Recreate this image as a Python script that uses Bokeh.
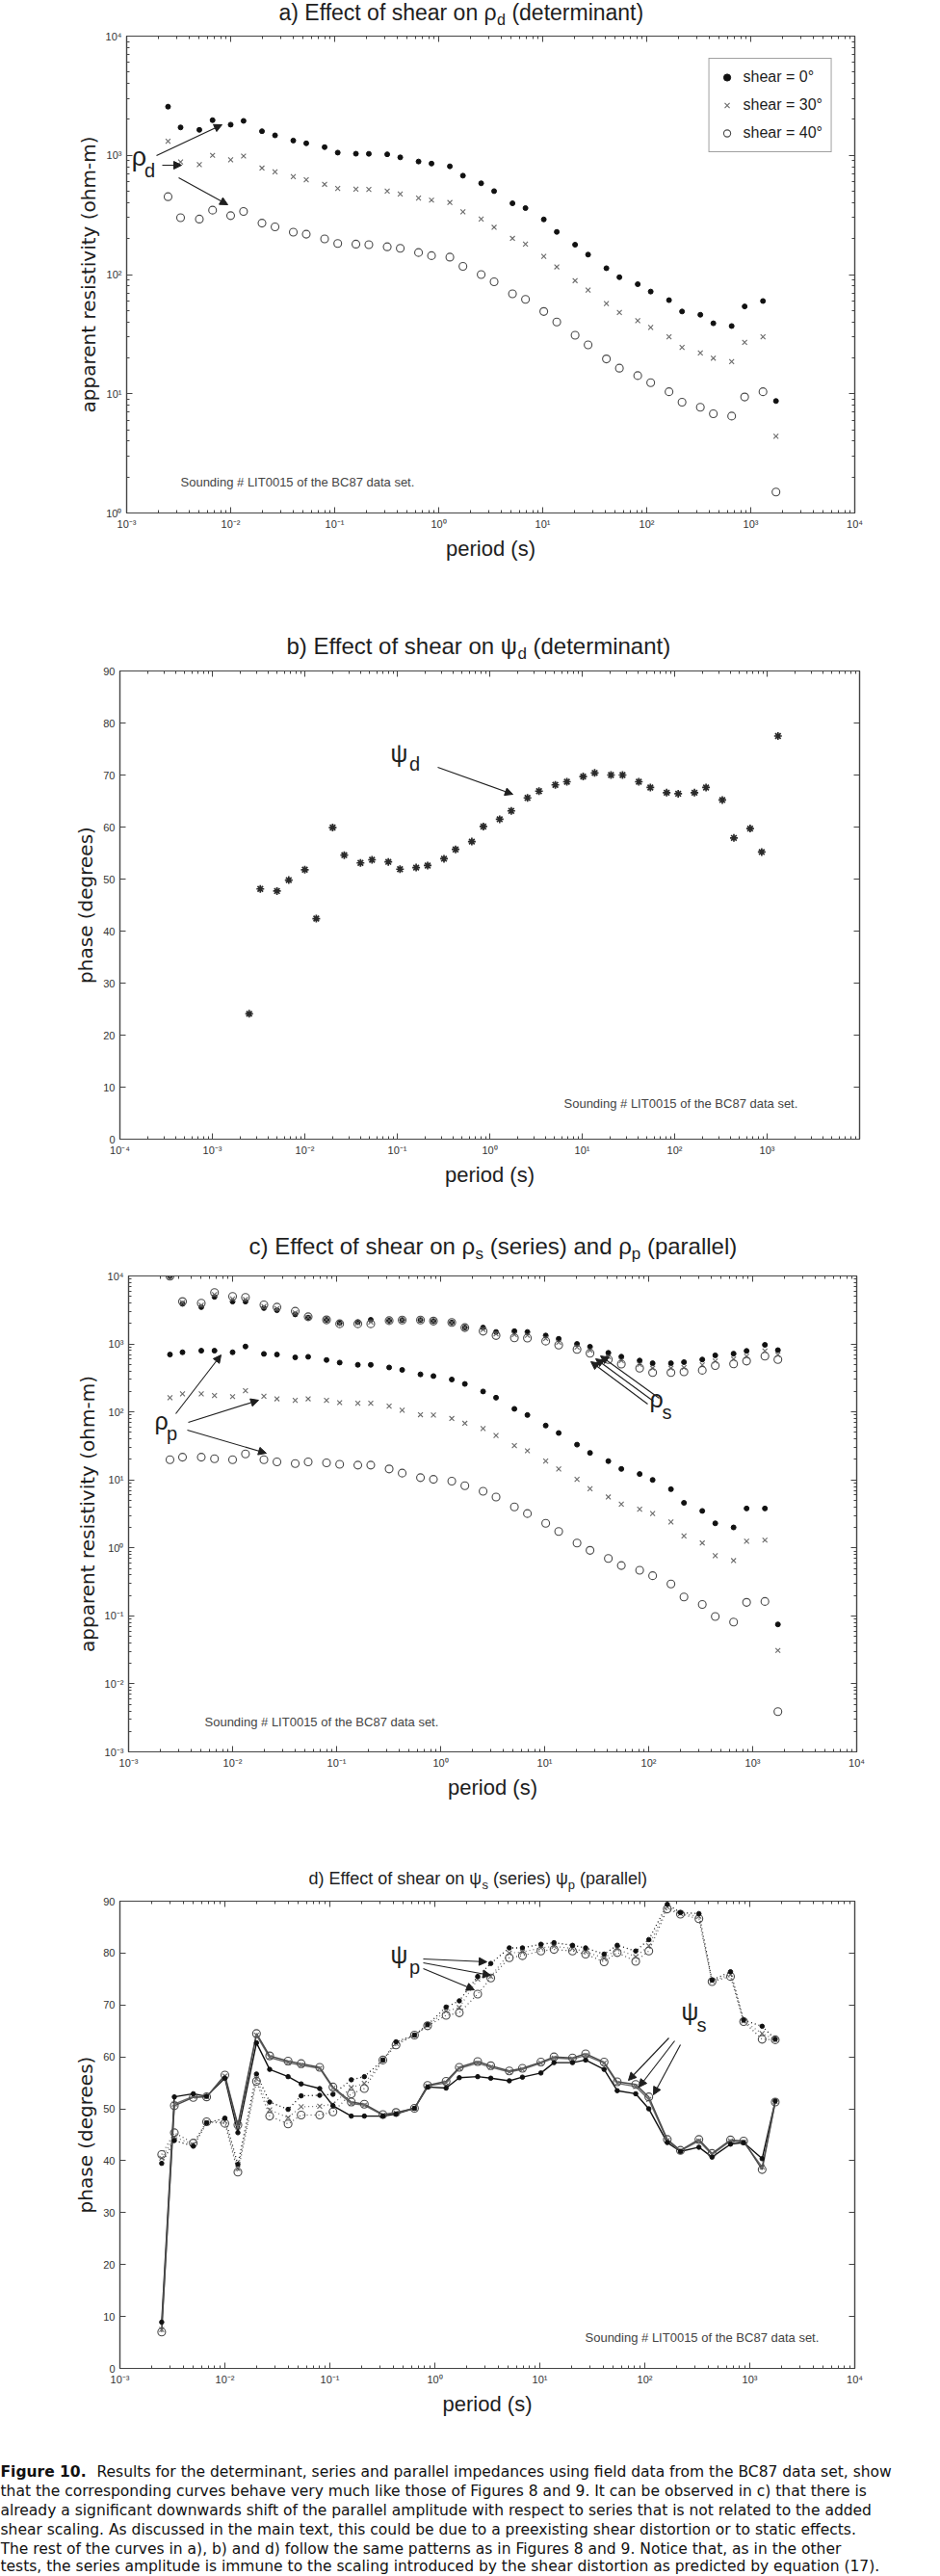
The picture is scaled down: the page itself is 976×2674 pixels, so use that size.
from bokeh.plotting import figure
from bokeh.models import (Range1d, LogAxis, LinearAxis, Label, Arrow, NormalHead,
                          FixedTicker, CustomJSTickFormatter, ColumnDataSource)
from bokeh.layouts import column
from bokeh.embed import file_html
from bokeh.resources import INLINE
from bokeh.core.properties import value

# ---------------- data ----------------
period = [0.0025, 0.0033, 0.005, 0.0067, 0.01, 0.0133, 0.02, 0.0267, 0.04, 0.0533,
          0.08, 0.107, 0.16, 0.213, 0.32, 0.427, 0.64, 0.853, 1.28, 1.71,
          2.56, 3.41, 5.12, 6.83, 10.24, 13.65, 20.48, 27.31, 40.96, 54.61,
          81.92, 109.2, 163.8, 218.5, 327.7, 436.9, 655.4, 873.8, 1311.0, 1748.0]

a_rho_0 = [2560, 1715, 1636, 1972, 1808, 1945, 1593, 1471, 1331, 1262, 1172, 1054, 1032, 1030,
           1020, 962, 888, 853, 809, 675, 583, 501, 396, 361, 290, 228, 178, 147, 113, 95,
           83, 72, 61, 49, 46, 39, 37, 54, 60, 8.7]
a_rho_30 = [1314, 881, 836, 1000, 917, 986, 782, 726, 662, 624, 572, 528, 521, 518,
            501, 474, 438, 421, 402, 336, 292, 249, 201, 180, 142, 116, 89, 74, 57, 48,
            41, 36, 30, 24.5, 22, 19.9, 18.6, 27, 30, 4.4]
a_rho_40 = [450, 300, 292, 347, 312, 338, 270, 251, 227, 218, 199, 182, 180, 178,
            171, 166, 153, 144, 140, 117, 100, 87, 69, 62, 49, 40, 31, 25.7, 19.6, 16.4,
            14.2, 12.4, 10.4, 8.5, 7.7, 6.8, 6.5, 9.4, 10.4, 1.5]

b_psi = [24.1, 48.1, 47.7, 49.8, 51.8, 42.4, 59.9, 54.6, 53.1, 53.7, 53.3, 51.9, 52.2,
         52.6, 53.9, 55.7, 57.2, 60.1, 61.5, 63.1, 65.6, 66.9, 68.1, 68.7, 69.7, 70.4,
         70.0, 70.0, 68.7, 67.6, 66.6, 66.4, 66.6, 67.6, 65.2, 57.9, 59.7, 55.2, 77.5]

c_rs_0 = [9900, 3890, 3480, 4930, 4200, 4200, 3370, 3130, 2720, 2440, 2260, 2030, 2090, 2260,
          2200, 2250, 2250, 2170, 2070, 1740, 1740, 1500, 1540, 1500, 1330, 1190, 1000, 910,
          740, 650, 570, 520, 520, 540, 590, 680, 720, 790, 970, 810]
c_rs_30 = [9900, 4050, 3720, 5300, 4600, 4500, 3560, 3300, 2870, 2470, 2260, 2000, 2030, 2100,
           2200, 2250, 2250, 2170, 2070, 1740, 1630, 1410, 1370, 1340, 1200, 1060, 900, 810,
           650, 570, 500, 440, 440, 450, 490, 560, 600, 660, 790, 690]
c_rs_40 = [9900, 4200, 3970, 5690, 4990, 4830, 3760, 3480, 3030, 2510, 2260, 1980, 1980, 1980,
           2200, 2250, 2250, 2170, 2070, 1740, 1540, 1330, 1230, 1220, 1100, 960, 830, 730,
           590, 505, 440, 380, 380, 390, 410, 480, 510, 560, 660, 590]
c_rp_0 = [698, 754, 796, 796, 754, 917, 714, 698, 634, 647, 581, 532, 493, 493,
          451, 415, 357, 337, 300, 258, 200, 162, 111, 90, 63, 49, 33, 25, 18.9, 14.5,
          12.2, 10.0, 7.3, 4.6, 3.5, 2.3, 2.0, 3.8, 3.8, 0.075]
c_rp_30 = [162, 184, 184, 174, 168, 205, 170, 156, 148, 156, 148, 137, 134, 134,
           122, 106, 91, 90, 80, 68, 57, 45, 32, 26.8, 18.9, 14.5, 10.2, 7.4, 5.6, 4.4,
           3.7, 3.2, 2.4, 1.5, 1.18, 0.77, 0.65, 1.25, 1.3, 0.031]
c_rp_40 = [19.8, 21.6, 21.6, 20.5, 19.8, 24.1, 19.8, 18.4, 17.4, 18.4, 17.8, 17.0, 16.5, 16.5,
           14.5, 12.6, 10.8, 10.2, 9.6, 8.2, 6.8, 5.6, 4.0, 3.2, 2.3, 1.74, 1.18, 0.92,
           0.70, 0.55, 0.47, 0.39, 0.295, 0.19, 0.147, 0.098, 0.081, 0.158, 0.163, 0.0039]

d_ps_0 = [8.9, 52.3, 52.9, 52.4, 55.9, 45.4, 62.7, 57.6, 56.2, 54.8, 53.9, 50.6, 48.6, 48.6,
          48.6, 49.0, 50.1, 54.2, 54.0, 56.0, 56.2, 55.9, 55.4, 56.1, 56.9, 58.9, 58.9, 59.4,
          57.6, 53.5, 52.9, 50.0, 43.5, 41.8, 42.6, 40.7, 43.2, 43.5, 40.4, 51.5]
d_ps_30 = [7.5, 50.9, 52.4, 52.3, 56.3, 46.5, 64.2, 59.9, 58.9, 58.4, 57.8, 54.0, 51.0, 50.7,
           48.8, 49.2, 50.1, 54.4, 55.0, 57.8, 58.8, 58.0, 57.1, 57.6, 58.8, 59.8, 59.6, 60.3,
           58.8, 54.9, 54.3, 51.8, 43.9, 41.9, 43.8, 41.2, 43.8, 43.6, 38.8, 51.4]
d_ps_40 = [7.0, 50.6, 52.2, 52.3, 56.5, 46.9, 64.5, 60.2, 59.2, 58.7, 58.0, 54.2, 51.3, 50.9,
           48.9, 49.3, 50.1, 54.5, 55.3, 58.0, 59.1, 58.3, 57.3, 57.8, 59.0, 60.0, 59.8, 60.6,
           59.0, 55.2, 54.7, 52.3, 44.1, 42.0, 44.1, 41.4, 44.0, 43.8, 38.3, 51.3]
d_pp_0 = [39.5, 43.9, 42.8, 47.3, 48.2, 39.3, 56.7, 51.3, 49.9, 52.5, 52.6, 52.8, 55.6, 56.2,
          59.4, 62.9, 64.2, 66.2, 69.6, 70.8, 75.5, 78.0, 81.0, 81.0, 81.7, 82.0, 81.5, 81.0,
          79.8, 81.5, 80.4, 82.6, 89.4, 87.8, 87.6, 74.8, 76.4, 67.1, 65.9, 63.4]
d_pp_30 = [40.5, 44.6, 43.1, 47.4, 47.6, 38.5, 55.8, 49.8, 48.3, 50.4, 50.5, 50.9, 54.1, 54.9,
           59.4, 62.6, 64.2, 66.1, 68.8, 69.5, 75.0, 75.5, 80.0, 80.2, 81.0, 81.3, 80.9, 80.3,
           79.0, 80.8, 79.3, 81.4, 88.9, 87.6, 87.1, 74.6, 75.9, 66.9, 64.5, 63.3]
d_pp_40 = [41.2, 45.4, 43.4, 47.5, 47.2, 37.8, 55.3, 48.6, 47.1, 48.8, 48.8, 49.4, 52.9, 53.9,
           59.4, 62.3, 64.2, 66.0, 68.0, 68.5, 72.1, 75.2, 79.1, 79.5, 80.4, 80.7, 80.4, 79.8,
           78.3, 80.1, 78.4, 80.4, 88.5, 87.5, 86.6, 74.5, 75.5, 66.8, 63.4, 63.3]

shear_labels = ["shear = 0\u00b0", "shear = 30\u00b0", "shear = 40\u00b0"]
sounding_text = "Sounding # LIT0015 of the BC87 data set."

title_a = [("a) Effect of shear on \u03c1", 23, 0), ("d", 16, 5), (" (determinant)", 23, 0)]
title_b = [("b) Effect of shear on \u03c8", 24, 0), ("d", 17, 6), (" (determinant)", 24, 0)]
title_c = [("c) Effect of shear on \u03c1", 24, 0), ("s", 17, 6), (" (series) and \u03c1", 24, 0),
           ("p", 17, 6), (" (parallel)", 24, 0)]
title_d = [("d) Effect of shear on \u03c8", 18, 0), ("s", 13, 5), (" (series) \u03c8", 18, 0),
           ("p", 13, 5), (" (parallel)", 18, 0)]

caption_bold = "Figure 10."
caption_lines = [
    "Results for the determinant, series and parallel impedances using field data from the BC87 data set, show",
    "that the corresponding curves behave very much like those of Figures 8 and 9. It can be observed in c) that there is",
    "already a significant downwards shift of the parallel amplitude with respect to series that is not related to the added",
    "shear scaling. As discussed in the main text, this could be due to a preexisting shear distortion or to static effects.",
    "The rest of the curves in a), b) and d) follow the same patterns as in Figures 8 and 9. Notice that, as in the other",
    "tests, the series amplitude is immune to the scaling introduced by the shear distortion as predicted by equation (17).",
]

# ---------------- styling helpers ----------------
W = 976
INK = "#1e1e1e"
AXC = "#444444"
C0, C30, C40 = "#111111", "#6a6a6a", "#4a4a4a"

SUP_JS = """
const e = Math.round(Math.log10(tick));
const m = {"-":"\u207b","0":"\u2070","1":"\u00b9","2":"\u00b2","3":"\u00b3","4":"\u2074","5":"\u2075"};
return "10" + String(e).split("").map(c => m[c]).join("");
"""
EMPTY_JS = "return '';"

AW = {' ': 278, 'a': 556, 'b': 556, 'c': 500, 'd': 556, 'e': 556, 'f': 278, 'g': 556,
      'h': 556, 'i': 222, 'l': 222, 'm': 833, 'n': 556, 'o': 556, 'p': 556, 'r': 333,
      's': 500, 't': 278, 'u': 556, 'v': 500, 'y': 500, '(': 333, ')': 333, 'E': 667,
      '\u03c1': 569, '\u03c8': 712}


def tw(s, size):
    return sum(AW.get(ch, 556) for ch in s) * size / 1000.0


def no_align(p):
    try:
        p.frame_align = False
    except Exception:
        pass


class Geo:
    """frame position on the page (px) and axis ranges (exponents for log)"""
    def __init__(self, left, right, top, bottom, x0, x1, y0, y1, ylog):
        self.left, self.right, self.top, self.bottom = left, right, top, bottom
        self.x0, self.x1, self.y0, self.y1, self.ylog = x0, x1, y0, y1, ylog

    def x(self, px):
        return 10.0 ** (self.x0 + (px - self.left) / (self.right - self.left) * (self.x1 - self.x0))

    def y(self, py):
        f = (self.bottom - py) / (self.bottom - self.top)
        v = self.y0 + f * (self.y1 - self.y0)
        return 10.0 ** v if self.ylog else v


def style_axis(ax, hidden=False):
    ax.axis_line_color = AXC
    ax.axis_line_width = 1.2
    ax.major_tick_line_color = AXC
    ax.major_tick_in = 6
    ax.major_tick_out = 0
    ax.minor_tick_line_color = AXC
    ax.minor_tick_in = 3
    ax.minor_tick_out = 0
    if hidden:
        ax.major_label_text_font_size = "0px"
        ax.major_label_standoff = 0
    else:
        ax.major_label_text_font = "Liberation Sans"
        ax.major_label_text_font_size = "11px"
        ax.major_label_text_color = "#333333"
        ax.major_label_standoff = 5


def make_panel(g, page_top, height, ylabel, xlab_lo, xlab_hi):
    if g.ylog:
        yr = Range1d(10.0 ** g.y0, 10.0 ** g.y1)
    else:
        yr = Range1d(g.y0, g.y1)
    p = figure(width=W, height=height, x_axis_type="log",
               y_axis_type="log" if g.ylog else "linear",
               x_range=Range1d(10.0 ** g.x0, 10.0 ** g.x1), y_range=yr,
               output_backend="svg", toolbar_location=None,
               min_border_left=g.left, min_border_right=W - g.right,
               min_border_top=g.top - page_top,
               min_border_bottom=page_top + height - g.bottom)
    no_align(p)
    p.title.visible = False
    p.xgrid.visible = False
    p.ygrid.visible = False
    p.outline_line_color = AXC
    p.outline_line_width = 1.2
    p.background_fill_color = "white"
    p.border_fill_color = "white"

    xt = FixedTicker(ticks=[10.0 ** k for k in range(xlab_lo, xlab_hi + 1)],
                     minor_ticks=[m * 10.0 ** k for k in range(g.x0, g.x1) for m in range(2, 10)])
    if g.ylog:
        yt = FixedTicker(ticks=[10.0 ** k for k in range(g.y0, g.y1 + 1)],
                         minor_ticks=[m * 10.0 ** k for k in range(g.y0, g.y1) for m in range(2, 10)])
    else:
        yt = FixedTicker(ticks=list(range(0, 91, 10)), minor_ticks=[])

    xa = p.xaxis[0]
    ya = p.yaxis[0]
    xa.ticker = xt
    ya.ticker = yt
    xa.formatter = CustomJSTickFormatter(code=SUP_JS)
    if g.ylog:
        ya.formatter = CustomJSTickFormatter(code=SUP_JS)
    top = LogAxis(ticker=xt, formatter=CustomJSTickFormatter(code=EMPTY_JS))
    right = (LogAxis if g.ylog else LinearAxis)(ticker=yt, formatter=CustomJSTickFormatter(code=EMPTY_JS))
    p.add_layout(top, "above")
    p.add_layout(right, "right")
    style_axis(xa)
    style_axis(ya)
    style_axis(top, hidden=True)
    style_axis(right, hidden=True)

    xa.axis_label = "period (s)"
    xa.axis_label_text_font = "Liberation Sans"
    xa.axis_label_text_font_size = "22px"
    xa.axis_label_text_font_style = "normal"
    xa.axis_label_text_color = INK
    xa.axis_label_standoff = 4
    ya.axis_label = ylabel
    ya.axis_label_text_font = "DejaVu Sans"
    ya.axis_label_text_font_size = "20px"
    ya.axis_label_text_font_style = "normal"
    ya.axis_label_text_color = INK
    ya.axis_label_standoff = 3
    return p


def blank_fig(height):
    t = figure(width=W, height=height, x_range=Range1d(0, W), y_range=Range1d(height, 0),
               output_backend="svg", toolbar_location=None,
               x_axis_location=None, y_axis_location=None,
               min_border_left=0, min_border_right=0, min_border_top=0, min_border_bottom=0)
    no_align(t)
    t.title.visible = False
    t.grid.visible = False
    t.outline_line_color = None
    t.background_fill_color = "white"
    t.border_fill_color = "white"
    return t


def title_fig(page_top, height, x0, base, pieces):
    t = blank_fig(height)
    x = x0
    for text, size, dy in pieces:
        if text.startswith(" "):          # svg drops leading blanks: move instead
            x += tw(" ", size)
            text = text[1:]
        t.text(x=[x], y=[base + dy - page_top - 0.35 * size], text=[text],
               text_font=value("Liberation Sans"), text_font_size=value(f"{size}px"),
               text_align="left", text_baseline="middle", text_color=INK)
        x += tw(text, size)
    return t


def label(p, g, px, py, text, size, font="Liberation Sans", align="center",
          baseline="middle", color=INK):
    p.add_layout(Label(x=g.x(px), y=g.y(py), text=text, text_font=font,
                       text_font_size=f"{size}px", text_align=align,
                       text_baseline=baseline, text_color=color))


def arrow(p, g, x1, y1, x2, y2):
    p.add_layout(Arrow(end=NormalHead(size=8, fill_color=INK, line_color=INK, line_width=1),
                       x_start=g.x(x1), y_start=g.y(y1), x_end=g.x(x2), y_end=g.y(y2),
                       line_color=INK, line_width=1.1))


def dots(p, x, y, **kw):
    return p.scatter(x, y, marker="circle", size=5, fill_color=C0, line_color=C0, **kw)


def crosses(p, x, y, **kw):
    return p.scatter(x, y, marker="x", size=7, line_color=C30, line_width=1.1, **kw)


def rings(p, x, y, **kw):
    return p.scatter(x, y, marker="circle", size=8, fill_color=None, line_color=C40,
                     line_width=1.1, **kw)


# ---------------- panel a ----------------
tA = title_fig(0, 31, 289, 21, title_a)
ga = Geo(131, 887, 37, 532, -3, 4, 0, 4, True)
pa = make_panel(ga, 31, 567, "apparent resistivity (ohm-m)", -3, 4)
dots(pa, period, a_rho_0, legend_label=shear_labels[0])
crosses(pa, period, a_rho_30, legend_label=shear_labels[1])
rings(pa, period, a_rho_40, legend_label=shear_labels[2])
lg = pa.legend[0]
lg.location = "top_right"
lg.margin = 23
lg.border_line_color = AXC
lg.border_line_width = 1.2
lg.background_fill_color = "white"
lg.label_text_font = "Liberation Sans"
lg.label_text_font_size = "16px"
lg.label_text_color = INK
lg.glyph_width = 18
lg.glyph_height = 20
lg.label_height = 20
lg.spacing = 9
lg.padding = 9
lg.label_standoff = 8
label(pa, ga, 144, 162, "\u03c1", 27)
label(pa, ga, 155, 176, "d", 20)
arrow(pa, ga, 162, 161, 230, 129)
arrow(pa, ga, 168, 171, 188, 171)
arrow(pa, ga, 185, 184, 236, 212)
label(pa, ga, 187, 500, sounding_text, 13, align="left", color="#444444")

# ---------------- panel b ----------------
tB = title_fig(598, 92, 297, 678, title_b)
gb = Geo(124, 892, 696, 1182, -4, 4, 0, 90, False)
pb = make_panel(gb, 690, 546, "phase (degrees)", -4, 3)
pb.scatter(period[:len(b_psi)], b_psi, marker="asterisk", size=8, line_color="#2a2a2a",
           line_width=1.7)
label(pb, gb, 414, 781, "\u03c8", 25)
label(pb, gb, 430, 792, "d", 20)
arrow(pb, gb, 454, 796, 532, 824)
label(pb, gb, 585, 1145, sounding_text, 13, align="left", color="#444444")

# ---------------- panel c ----------------
tC = title_fig(1236, 82, 258, 1301, title_c)
gc = Geo(133, 889, 1324, 1818, -3, 4, -3, 4, True)
pc = make_panel(gc, 1318, 570, "apparent resistivity (ohm-m)", -3, 4)
dots(pc, period, c_rs_0)
crosses(pc, period, c_rs_30)
rings(pc, period, c_rs_40)
dots(pc, period, c_rp_0)
crosses(pc, period, c_rp_30)
rings(pc, period, c_rp_40)
label(pc, gc, 167, 1474, "\u03c1", 25)
label(pc, gc, 178, 1487, "p", 20)
arrow(pc, gc, 182, 1467, 229, 1406)
arrow(pc, gc, 195, 1476, 268, 1453)
arrow(pc, gc, 194, 1484, 276, 1508)
label(pc, gc, 681, 1451, "\u03c1", 25)
label(pc, gc, 692, 1465, "s", 20)
arrow(pc, gc, 672, 1457, 613, 1413)
arrow(pc, gc, 678, 1454, 618, 1410)
arrow(pc, gc, 684, 1451, 623, 1407)
label(pc, gc, 212, 1787, sounding_text, 13, align="left", color="#444444")

# ---------------- panel d ----------------
tD = title_fig(1888, 79, 320, 1956, title_d)
gd = Geo(124, 887, 1973, 2458, -3, 4, 0, 90, False)
pd_ = make_panel(gd, 1967, 545, "phase (degrees)", -3, 4)
for ys, col, w in ((d_pp_0, C0, 1.3), (d_pp_30, C30, 1.2), (d_pp_40, C40, 1.2)):
    pd_.line(period, ys, line_color=col, line_width=w, line_dash="1 3")
for ys, col, w in ((d_ps_0, C0, 1.4), (d_ps_30, C30, 1.4), (d_ps_40, C40, 1.4)):
    pd_.line(period, ys, line_color=col, line_width=w)
for ys0, ys30, ys40 in ((d_pp_0, d_pp_30, d_pp_40), (d_ps_0, d_ps_30, d_ps_40)):
    crosses(pd_, period, ys30)
    rings(pd_, period, ys40)
    pd_.scatter(period, ys0, marker="circle", size=4.5, fill_color=C0, line_color=C0)
label(pd_, gd, 414, 2028, "\u03c8", 25)
label(pd_, gd, 430, 2041, "p", 20)
arrow(pd_, gd, 439, 2033, 505, 2036)
arrow(pd_, gd, 439, 2037, 509, 2050)
arrow(pd_, gd, 439, 2043, 492, 2065)
label(pd_, gd, 716, 2087, "\u03c8", 25)
label(pd_, gd, 728, 2101, "s", 20)
arrow(pd_, gd, 694, 2115, 652, 2159)
arrow(pd_, gd, 700, 2118, 663, 2166)
arrow(pd_, gd, 706, 2122, 678, 2174)
label(pd_, gd, 607, 2426, sounding_text, 13, align="left", color="#444444")

# ---------------- caption ----------------
CTOP = 2512
cap = blank_fig(160)
line_y = [2565, 2585, 2605, 2625, 2645, 2663]
cap.text(x=[0], y=[line_y[0] - CTOP], text=[caption_bold], text_font=value("DejaVu Sans"),
         text_font_size=value("15.5px"), text_font_style="bold", text_baseline="middle",
         text_align="left", text_color="#111111")
src = ColumnDataSource(dict(x=[100] + [0] * 5, y=[v - CTOP for v in line_y], t=caption_lines))
cap.text(x="x", y="y", text="t", source=src, text_font=value("DejaVu Sans"),
         text_font_size=value("15.5px"), text_baseline="middle", text_align="left",
         text_color="#111111")

layout = column(tA, pa, tB, pb, tC, pc, tD, pd_, cap, spacing=0)
open("out.html", "w").write(file_html(layout, INLINE))
